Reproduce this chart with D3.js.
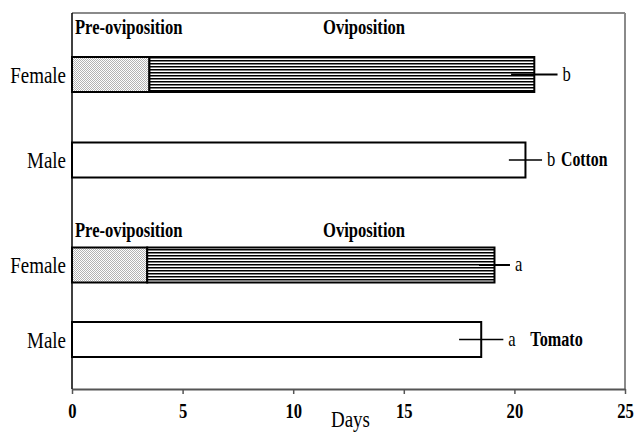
<!DOCTYPE html>
<html>
<head>
<meta charset="utf-8">
<script src="https://cdn.jsdelivr.net/npm/d3@7"></script>
<style>
  html, body { margin: 0; padding: 0; background: #fff; }
  svg { display: block; }
  text { font-family: "Liberation Serif", "Times New Roman", serif; fill: #000; }
</style>
</head>
<body>
<svg id="chart" width="634" height="433"></svg>
<script>
// ---- data ----
const rows = ["Cotton-Female", "Cotton-Male", "Tomato-Female", "Tomato-Male"];
const rowLabels = ["Female", "Male", "Female", "Male"];
const hosts = ["Cotton", "Cotton", "Tomato", "Tomato"];
const preOviposition = [3.5, null, 3.4, null];   // days (females only)
const totalDays = [20.9, 20.5, 19.1, 18.5];       // longevity (days)
const errors = [1.05, 0.75, 0.7, 1.0];            // +/- days
const letters = ["b", "b", "a", "a"];
const xTicks = [0, 5, 10, 15, 20, 25];
const phaseLabels = ["Pre-oviposition", "Oviposition"];

(function () {
// ---- layout ----
const svg = d3.select("#chart");
const mLeft = 72, mRight = 625, mTop = 13, mBottom = 389;
const SX = 0.79; // horizontal text compression

const x = d3.scaleLinear().domain([0, 25]).range([mLeft, mRight]);
const y = d3.scaleOrdinal().domain(rows).range([74.5, 160, 265, 339.5]);
const barH = 35;

const defs = svg.append("defs");
const stip = defs.append("pattern").attr("id", "stipple")
  .attr("patternUnits", "userSpaceOnUse").attr("width", 2).attr("height", 2);
stip.append("rect").attr("width", 2).attr("height", 2).attr("fill", "#fff");
stip.append("rect").attr("x", 0).attr("y", 0).attr("width", 1).attr("height", 1).attr("fill", "#b4b4b4");
stip.append("rect").attr("x", 1).attr("y", 1).attr("width", 1).attr("height", 1).attr("fill", "#b4b4b4");

const hl = defs.append("pattern").attr("id", "hlines")
  .attr("patternUnits", "userSpaceOnUse").attr("width", 6).attr("height", 3);
hl.append("rect").attr("width", 6).attr("height", 3).attr("fill", "#fff");
hl.append("rect").attr("y", 0).attr("width", 6).attr("height", 1.5).attr("fill", "#000");

function txt(xp, yp, s, size, weight, anchor) {
  const g = svg.append("g").attr("transform", `translate(${xp},${yp}) scale(${SX},1)`);
  g.append("text").attr("x", 0).attr("y", 0)
    .attr("font-size", size).attr("font-weight", weight || "normal")
    .attr("text-anchor", anchor || "start").text(s);
  return g;
}

// frame (top / right, gray)
svg.append("line").attr("x1", mLeft).attr("x2", mRight).attr("y1", mTop).attr("y2", mTop)
  .attr("stroke", "#8a8a8a").attr("stroke-width", 2);
svg.append("line").attr("x1", mRight).attr("x2", mRight).attr("y1", mTop).attr("y2", mBottom)
  .attr("stroke", "#8a8a8a").attr("stroke-width", 2);

// x axis
const xAxis = d3.axisBottom(x).tickValues(xTicks).tickSize(5).tickSizeOuter(0).tickFormat(d3.format("d"));
const ax = svg.append("g").attr("transform", `translate(0,${mBottom})`).call(xAxis);
ax.select(".domain").attr("stroke", "#555").attr("stroke-width", 2);
ax.selectAll(".tick line").attr("stroke", "#555").attr("stroke-width", 1.5);
ax.selectAll(".tick text")
  .attr("y", 0).attr("dy", null)
  .attr("transform", `translate(0,29) scale(${SX},1)`)
  .attr("font-family", "Liberation Serif, serif")
  .attr("font-size", 21).attr("font-weight", "bold").attr("fill", "#000");

// left axis line
svg.append("line").attr("x1", mLeft).attr("x2", mLeft).attr("y1", mTop).attr("y2", mBottom)
  .attr("stroke", "#000").attr("stroke-width", 1.5);

// bars
rows.forEach((r, i) => {
  const cy = y(r);
  const y0 = cy - barH / 2;
  if (preOviposition[i] != null) {
    svg.append("rect").attr("x", x(0)).attr("y", y0)
      .attr("width", x(preOviposition[i]) - x(0)).attr("height", barH)
      .attr("fill", "url(#stipple)").attr("stroke", "#000").attr("stroke-width", 2);
    svg.append("rect").attr("x", x(preOviposition[i])).attr("y", y0)
      .attr("width", x(totalDays[i]) - x(preOviposition[i])).attr("height", barH)
      .attr("fill", "url(#hlines)").attr("stroke", "#000").attr("stroke-width", 2);
  } else {
    svg.append("rect").attr("x", x(0)).attr("y", y0)
      .attr("width", x(totalDays[i]) - x(0)).attr("height", barH)
      .attr("fill", "#fff").attr("stroke", "#000").attr("stroke-width", 2);
  }
  // error bar
  svg.append("line")
    .attr("x1", x(totalDays[i] - errors[i])).attr("x2", x(totalDays[i] + errors[i]))
    .attr("y1", cy).attr("y2", cy)
    .attr("stroke", "#000").attr("stroke-width", preOviposition[i] != null ? 2 : 1.5);
  // letter
  txt(x(totalDays[i] + errors[i]) + 5, cy + 6, letters[i], 21, "normal", "start");
  // row label
  txt(66, cy + 8, rowLabels[i], 24, "normal", "end");
});

// host labels (on male rows)
txt(x(totalDays[1] + errors[1]) + 19, y(rows[1]) + 6, hosts[1], 20, "bold", "start");
txt(x(totalDays[3] + errors[3]) + 27, y(rows[3]) + 6, hosts[3], 20.5, "bold", "start");

// phase labels
[34, 237].forEach(by => {
  txt(75, by, phaseLabels[0], 21, "bold", "start");
  txt(364, by, phaseLabels[1], 21, "bold", "middle");
});

// x title
txt((x(0) + x(25)) / 2 + 2, 427, "Days", 24, "normal", "middle");
})();
</script>
</body>
</html>
